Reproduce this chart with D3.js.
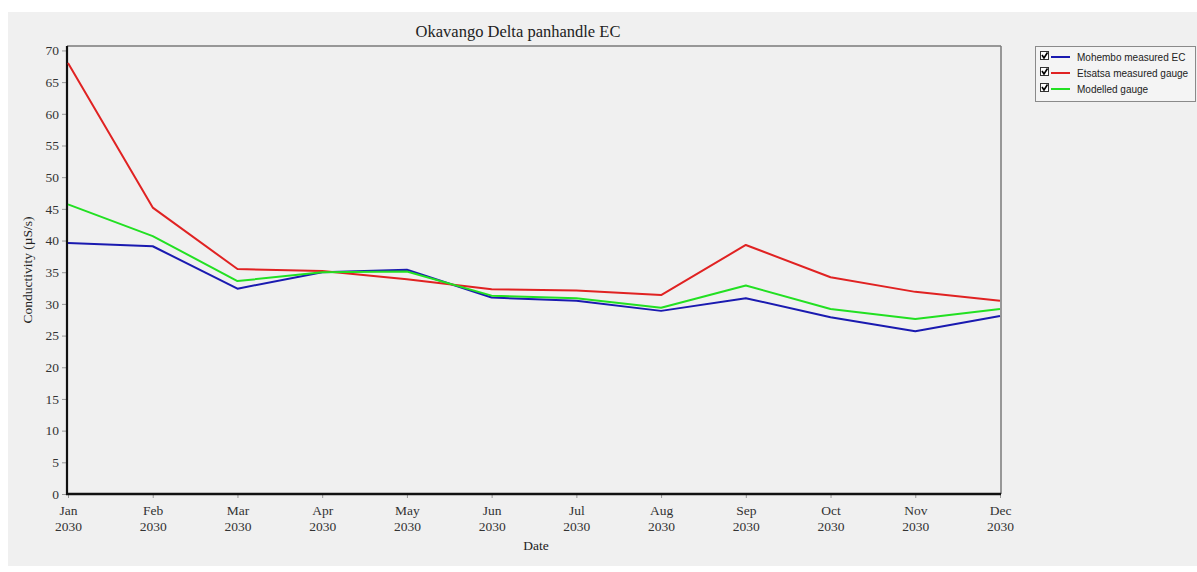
<!DOCTYPE html>
<html>
<head>
<meta charset="utf-8">
<script src="https://cdn.jsdelivr.net/npm/d3@7"></script>
<style>
  html, body { margin: 0; padding: 0; background: #ffffff; }
  svg { display: block; }
</style>
</head>
<body>
<svg id="chart" width="1197" height="572"></svg>
<script>
// Monthly conductivity series, 2030
const months = ["Jan", "Feb", "Mar", "Apr", "May", "Jun", "Jul", "Aug", "Sep", "Oct", "Nov", "Dec"];
const year = "2030";
const mohemboMeasured = [39.6, 39.1, 32.4, 35.0, 35.4, 31.0, 30.5, 28.9, 30.9, 27.9, 25.7, 28.1];
const etsatsaMeasured = [68.0, 45.2, 35.5, 35.2, 33.9, 32.3, 32.1, 31.4, 39.3, 34.2, 31.9, 30.5];
const modelledGauge   = [45.7, 40.7, 33.6, 35.0, 35.1, 31.3, 30.9, 29.4, 32.9, 29.2, 27.6, 29.2];
const yTicks = [0, 5, 10, 15, 20, 25, 30, 35, 40, 45, 50, 55, 60, 65, 70];
const seriesNames = ["Mohembo measured EC", "Etsatsa measured gauge", "Modelled gauge"];
const seriesColors = ["#1a1ab0", "#e02222", "#22e022"];
const seriesValues = [mohemboMeasured, etsatsaMeasured, modelledGauge];

const svg = d3.select("#chart");
const serif = "'Liberation Serif', 'Times New Roman', serif";
const sans = "'Liberation Sans', Arial, sans-serif";

// panel background
svg.append("rect").attr("x", 8).attr("y", 12).attr("width", 1189).attr("height", 554)
  .attr("fill", "#f0f0f0");

const plot = { left: 67, right: 1001, top: 46, bottom: 494 };

const x = d3.scalePoint().domain(months).range([plot.left + 1, plot.right - 1]);
const y = d3.scaleLinear().domain([0, 70.7]).range([plot.bottom, plot.top]);

// plot frame: grey top/right, black left/bottom axes
svg.append("line").attr("x1", plot.left).attr("x2", plot.right).attr("y1", plot.top).attr("y2", plot.top)
  .attr("stroke", "#7a7a7a").attr("stroke-width", 1.5);
svg.append("line").attr("x1", plot.right).attr("x2", plot.right).attr("y1", plot.top).attr("y2", plot.bottom)
  .attr("stroke", "#7a7a7a").attr("stroke-width", 1.5);

// y axis
const yAxis = d3.axisLeft(y).tickValues(yTicks).tickSize(5).tickPadding(3);
const gy = svg.append("g").attr("transform", `translate(${plot.left},0)`).call(yAxis);
gy.select(".domain").remove();
gy.selectAll(".tick line").attr("stroke", "#9a9a9a");
gy.selectAll(".tick text").attr("font-family", serif).attr("font-size", 13.5).attr("fill", "#333");

// x axis with two-line labels
const xAxis = d3.axisBottom(x).tickSize(4).tickPadding(6).tickFormat("");
const gx = svg.append("g").attr("transform", `translate(0,${plot.bottom})`).call(xAxis);
gx.select(".domain").remove();
gx.selectAll(".tick line").attr("stroke", "#9a9a9a");
gx.selectAll(".tick").each(function(d) {
  const t = d3.select(this).select("text").attr("font-family", serif).attr("font-size", 13.5)
    .attr("fill", "#333").attr("y", 11).attr("dy", "0.71em");
  t.append("tspan").attr("x", 0).text(d);
  t.append("tspan").attr("x", 0).attr("dy", "1.25em").text(year);
});

svg.append("line").attr("x1", plot.left).attr("x2", plot.left).attr("y1", plot.top).attr("y2", plot.bottom + 1)
  .attr("stroke", "#111").attr("stroke-width", 2.2);
svg.append("line").attr("x1", plot.left - 1).attr("x2", plot.right).attr("y1", plot.bottom).attr("y2", plot.bottom)
  .attr("stroke", "#111").attr("stroke-width", 2.6);

// series lines
const line = d3.line().x((d, i) => x(months[i])).y(d => y(d));
seriesValues.forEach((vals, k) => {
  svg.append("path").datum(vals).attr("d", line).attr("fill", "none")
    .attr("stroke", seriesColors[k]).attr("stroke-width", 2).attr("stroke-linejoin", "round");
});

// titles
svg.append("text").attr("x", 518).attr("y", 37).attr("text-anchor", "middle")
  .attr("font-family", serif).attr("font-size", 16.5).attr("fill", "#222")
  .text("Okavango Delta panhandle EC");
svg.append("text").attr("x", (plot.left + plot.right) / 2 + 2).attr("y", 550).attr("text-anchor", "middle")
  .attr("font-family", serif).attr("font-size", 13.5).attr("fill", "#222").text("Date");
svg.append("text").attr("transform", "translate(32,270) rotate(-90)").attr("text-anchor", "middle")
  .attr("font-family", serif).attr("font-size", 13.5).attr("fill", "#222")
  .text("Conductivity (\u00B5S/s)");

// legend
const lg = svg.append("g").attr("transform", "translate(1035,46)");
lg.append("rect").attr("x", 0.5).attr("y", 0.5).attr("width", 160).attr("height", 55)
  .attr("fill", "#f4f4f4").attr("stroke", "#8a8a8a");
seriesNames.forEach((name, k) => {
  const cy = 11 + k * 16;
  const row = lg.append("g");
  row.append("rect").attr("x", 5.5).attr("y", cy - 5.5).attr("width", 8).attr("height", 8)
    .attr("fill", "#fff").attr("stroke", "#333");
  row.append("path").attr("d", `M7,${cy - 2} L9,${cy + 1} L12.5,${cy - 4.5}`)
    .attr("fill", "none").attr("stroke", "#000").attr("stroke-width", 1.6);
  row.append("line").attr("x1", 16).attr("x2", 35).attr("y1", cy).attr("y2", cy)
    .attr("stroke", seriesColors[k]).attr("stroke-width", 2);
  row.append("text").attr("x", 42).attr("y", cy).attr("dy", "0.35em")
    .attr("font-family", sans).attr("font-size", 10).attr("fill", "#222").text(name);
});
</script>
</body>
</html>
